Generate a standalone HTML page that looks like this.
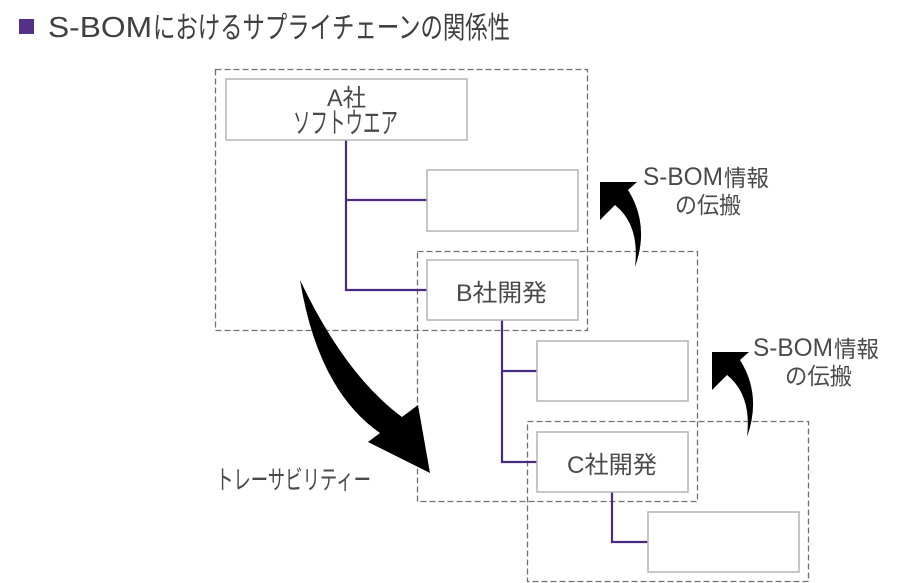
<!DOCTYPE html>
<html>
<head>
<meta charset="utf-8">
<style>
html,body{margin:0;padding:0;background:#fff;}
body{width:900px;height:583px;overflow:hidden;}
svg{display:block;}
text{font-family:"Liberation Sans","Noto Sans CJK JP",sans-serif;fill:#4a4a4a;}
</style>
</head>
<body>
<svg width="900" height="583" viewBox="0 0 900 583" xmlns="http://www.w3.org/2000/svg">
  <!-- Title -->
  <rect x="19" y="19" width="15" height="15" fill="#553089"/>
  <text x="48" y="37" font-size="29" textLength="104" lengthAdjust="spacingAndGlyphs" style="fill:#404040">S-BOM</text>
  <text transform="translate(153,38) scale(1,1.15)" x="0" y="0" font-size="26" textLength="357" lengthAdjust="spacingAndGlyphs" style="fill:#404040">におけるサプライチェーンの関係性</text>

  <!-- Dashed group boxes -->
  <g fill="none" stroke="#707070" stroke-width="1.3" stroke-dasharray="6 3">
    <rect x="215.5" y="69.5" width="372" height="261"/>
    <rect x="417.5" y="251.5" width="280" height="250"/>
    <rect x="527.5" y="421.5" width="281" height="160"/>
  </g>

  <!-- Purple connector lines -->
  <g fill="none" stroke="#4b2a84" stroke-width="2.2">
    <polyline points="346,140 346,290 427,290"/>
    <line x1="346" y1="200" x2="427" y2="200"/>
    <polyline points="502,320 502,462 537,462"/>
    <line x1="502" y1="371" x2="537" y2="371"/>
    <polyline points="612,492 612,542 648,542"/>
  </g>

  <!-- Boxes -->
  <g fill="#fff" stroke="#b4b4b4" stroke-width="1.5">
    <rect x="226" y="79" width="241" height="61"/>
    <rect x="427" y="170" width="151" height="61"/>
    <rect x="427" y="260" width="151" height="60"/>
    <rect x="537" y="341" width="151" height="60"/>
    <rect x="537" y="432" width="151" height="60"/>
    <rect x="648" y="512" width="151" height="60"/>
  </g>

  <!-- Big traceability arrow -->
  <path d="M300,280 Q345,375 402,417 L418,405 L430,473 L368,442 L380,433 Q318,390 300,280 Z" fill="#000"/>

  <!-- Small propagation arrows -->
  <path d="M600,182 L637,182 L628,190 Q650,225 635,267 Q640,225 615,205 L600,220 Z" fill="#000"/>
  <path d="M600,182 L637,182 L628,190 Q650,225 635,267 Q640,225 615,205 L600,220 Z" fill="#000" transform="translate(112,170)"/>

  <!-- Box texts -->
  <text x="327" y="106" font-size="24" textLength="39" lengthAdjust="spacingAndGlyphs">A社</text>
  <text transform="translate(293,133) scale(1,1.2)" x="0" y="0" font-size="24" textLength="105" lengthAdjust="spacingAndGlyphs">ソフトウエア</text>
  <text x="456" y="301" font-size="24" textLength="91" lengthAdjust="spacingAndGlyphs">B社開発</text>
  <text x="567" y="473" font-size="24" textLength="90" lengthAdjust="spacingAndGlyphs">C社開発</text>

  <!-- Labels -->
  <text x="643" y="185" font-size="25" textLength="80" lengthAdjust="spacingAndGlyphs">S-BOM</text>
  <text x="724" y="186" font-size="23" textLength="45" lengthAdjust="spacingAndGlyphs">情報</text>
  <text x="675" y="213" font-size="23" textLength="66" lengthAdjust="spacingAndGlyphs">の伝搬</text>

  <text x="753" y="356" font-size="25" textLength="80" lengthAdjust="spacingAndGlyphs">S-BOM</text>
  <text x="834" y="357" font-size="23" textLength="45" lengthAdjust="spacingAndGlyphs">情報</text>
  <text x="785" y="384" font-size="23" textLength="67" lengthAdjust="spacingAndGlyphs">の伝搬</text>

  <text transform="translate(216,489) scale(1,1.2)" x="0" y="0" font-size="22" textLength="155" lengthAdjust="spacingAndGlyphs">トレーサビリティー</text>
</svg>
</body>
</html>
